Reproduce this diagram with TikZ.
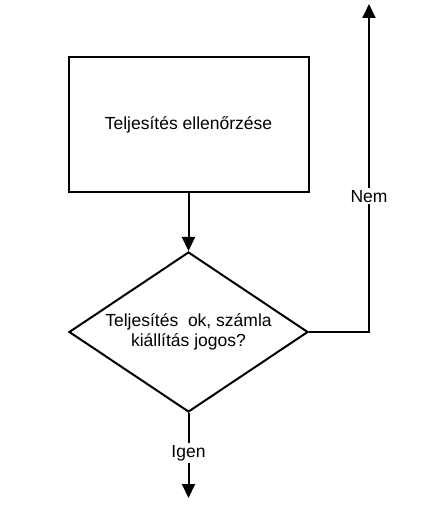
\documentclass[tikz,border=0pt]{standalone}
\usepackage{fontspec}
\setmainfont{Liberation Sans}
\usetikzlibrary{shapes.geometric,arrows.meta}

\tikzset{
    box/.style={draw, line width=2pt, minimum width=240pt, minimum height=135pt, inner sep=0pt},
    decision/.style={draw, diamond, line width=2pt, aspect=1.5, minimum width=239pt, minimum height=160pt, inner sep=0pt, align=center},
    flow/.style={line width=2pt, -{Triangle[length=14pt,width=13pt]}},
    answer/.style={fill=white, inner sep=2pt}
}

\begin{document}
\begin{tikzpicture}[x=1pt, y=-1pt, font=\fontsize{17.5}{20.5}\selectfont]
    % Frame of the picture
    \useasboundingbox (0,0) rectangle (445,505);

    % Check step
    \node[box] (check) at (188.5,124.5) {Teljesítés ellenőrzése};

    % Decision
    \node[decision] (ok) at (188.5,332) {Teljesítés\ \ ok, számla\\kiállítás jogos?};

    % Loose ends of the two exits
    \coordinate (nemend) at (369,4);
    \coordinate (igenend) at (188.5,498);

    % Connectors
    \draw[flow] (check) -- (ok);
    \draw[flow] (ok.east) -| (nemend) node[answer, pos=0.707] {Nem};
    \draw[flow] (ok.south) -- (igenend) node[answer, pos=0.47] {Igen};
\end{tikzpicture}
\end{document}
